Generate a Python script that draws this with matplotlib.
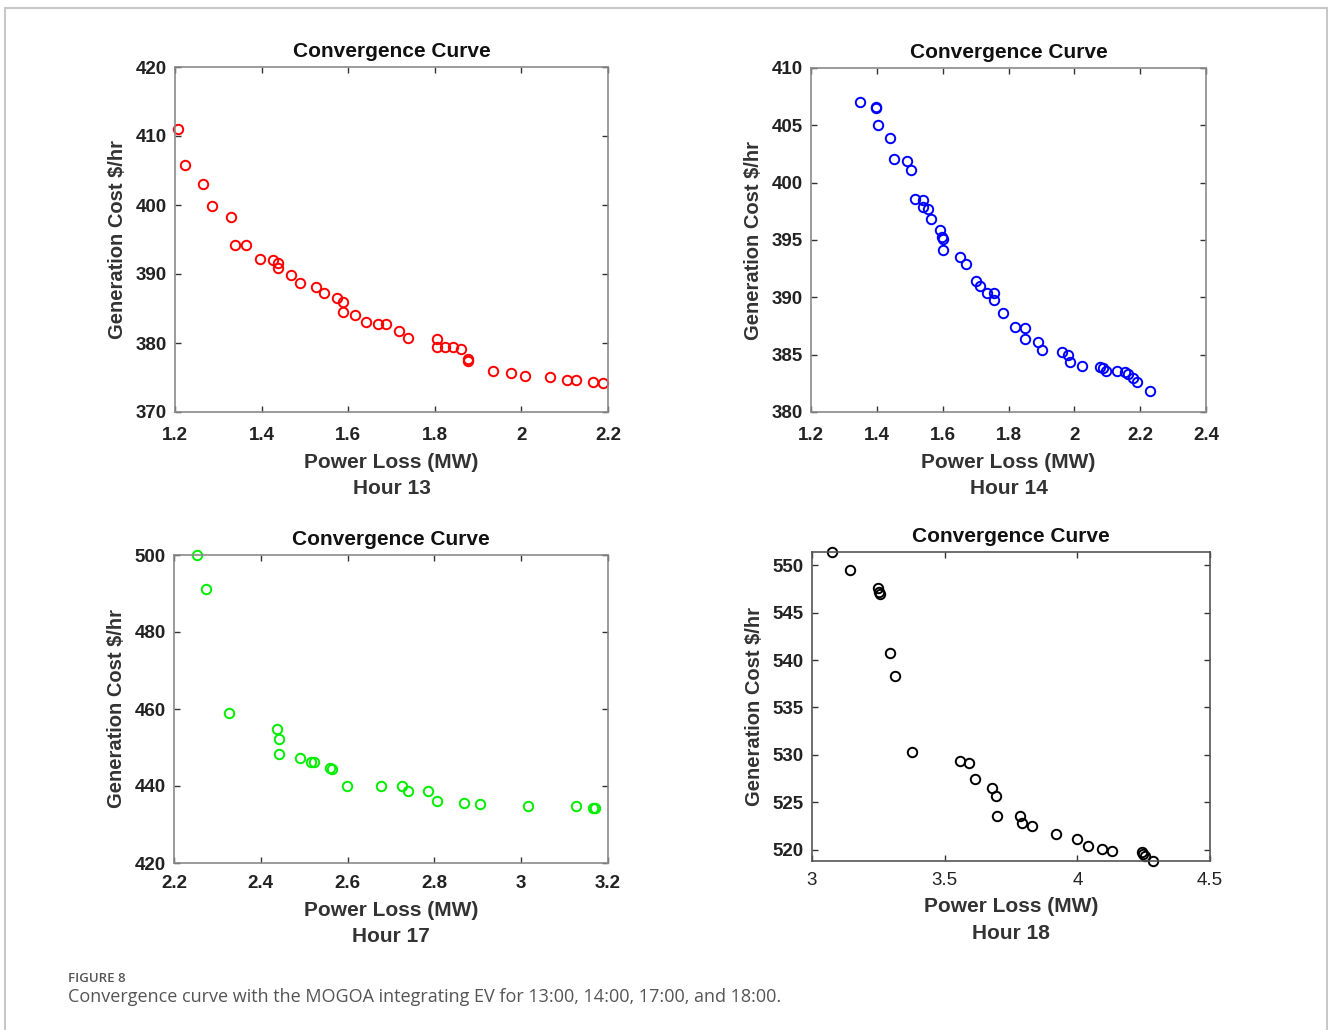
import matplotlib.pyplot as plt
from matplotlib.lines import Line2D

plt.rcParams['font.family'] = ['Liberation Sans', 'DejaVu Sans']

# Hour 13 (red)
loss_h13 = [1.208, 1.222, 1.264, 1.286, 1.330, 1.339, 1.364, 1.397, 1.427, 1.437,
            1.439, 1.468, 1.488, 1.525, 1.545, 1.575, 1.588, 1.587, 1.616, 1.642,
            1.668, 1.687, 1.717, 1.738, 1.805, 1.806, 1.823, 1.841, 1.861, 1.876,
            1.877, 1.934, 1.977, 2.008, 2.067, 2.105, 2.127, 2.165, 2.189]
cost_h13 = [411.0, 405.8, 403.1, 399.8, 398.3, 394.2, 394.2, 392.2, 392.1, 391.6,
            390.9, 389.8, 388.7, 388.1, 387.3, 386.5, 386.0, 384.5, 384.0, 383.0,
            382.7, 382.7, 381.7, 380.7, 380.6, 379.4, 379.4, 379.4, 379.1, 377.7,
            377.4, 376.0, 375.7, 375.2, 375.1, 374.6, 374.6, 374.3, 374.2]

# Hour 14 (blue)
loss_h14 = [1.350, 1.396, 1.398, 1.405, 1.439, 1.453, 1.492, 1.505, 1.515, 1.539,
            1.540, 1.555, 1.566, 1.591, 1.597, 1.601, 1.601, 1.654, 1.670, 1.700,
            1.713, 1.734, 1.757, 1.757, 1.782, 1.821, 1.849, 1.851, 1.891, 1.903,
            1.963, 1.982, 1.987, 2.024, 2.078, 2.088, 2.096, 2.131, 2.153, 2.163,
            2.178, 2.190, 2.231]
cost_h14 = [407.0, 406.6, 406.5, 405.0, 403.9, 402.1, 401.9, 401.1, 398.6, 398.5,
            397.9, 397.7, 396.8, 395.9, 395.3, 395.1, 394.1, 393.5, 392.9, 391.4,
            391.0, 390.4, 390.4, 389.8, 388.6, 387.4, 387.3, 386.4, 386.1, 385.4,
            385.2, 385.0, 384.4, 384.0, 383.9, 383.8, 383.6, 383.6, 383.5, 383.3,
            383.0, 382.6, 381.8]

# Hour 17 (green)
loss_h17 = [2.254, 2.274, 2.326, 2.438, 2.442, 2.443, 2.491, 2.515, 2.522, 2.559,
            2.565, 2.598, 2.678, 2.726, 2.740, 2.786, 2.806, 2.868, 2.905, 3.015,
            3.127, 3.166, 3.171]
cost_h17 = [500.0, 491.2, 459.0, 454.7, 452.1, 448.3, 447.3, 446.3, 446.2, 444.6,
            444.4, 440.1, 440.1, 440.0, 438.8, 438.7, 436.2, 435.6, 435.2, 434.9,
            434.7, 434.3, 434.2]

# Hour 18 (black)
loss_h18 = [3.075, 3.143, 3.250, 3.253, 3.257, 3.294, 3.312, 3.378, 3.559, 3.592,
            3.616, 3.677, 3.692, 3.698, 3.785, 3.791, 3.830, 3.920, 3.998, 4.040,
            4.094, 4.131, 4.244, 4.249, 4.254, 4.285]
cost_h18 = [551.4, 549.5, 547.6, 547.2, 547.0, 540.7, 538.3, 530.3, 529.3, 529.1,
            527.4, 526.5, 525.7, 523.6, 523.5, 522.8, 522.5, 521.6, 521.1, 520.35,
            520.1, 519.9, 519.8, 519.5, 519.3, 518.8]

W, H = 1328, 1030
fig = plt.figure(figsize=(W / 100, H / 100), dpi=100)


def px_axes(left, top, right, bottom):
    return fig.add_axes([left / W, 1 - bottom / H, (right - left) / W, (bottom - top) / H])


panels = [
    dict(box=(175, 67, 608, 412), x=loss_h13, y=cost_h13, color='#ff0000',
         xlim=(1.2, 2.2), ylim=(370, 420), xticks=[1.2, 1.4, 1.6, 1.8, 2.0, 2.2],
         xtl=['1.2', '1.4', '1.6', '1.8', '2', '2.2'], yticks=[370, 380, 390, 400, 410, 420],
         hour='Hour 13', spine='#8a8a8a', xbold=True, xpad=11),
    dict(box=(811, 68, 1206, 412), x=loss_h14, y=cost_h14, color='#0000ff',
         xlim=(1.2, 2.4), ylim=(380, 410), xticks=[1.2, 1.4, 1.6, 1.8, 2.0, 2.2, 2.4],
         xtl=['1.2', '1.4', '1.6', '1.8', '2', '2.2', '2.4'],
         yticks=[380, 385, 390, 395, 400, 405, 410],
         hour='Hour 14', spine='#8a8a8a', xbold=True, xpad=11),
    dict(box=(174, 555, 608, 863), x=loss_h17, y=cost_h17, color='#00ee00',
         xlim=(2.2, 3.2), ylim=(420, 500), xticks=[2.2, 2.4, 2.6, 2.8, 3.0, 3.2],
         xtl=['2.2', '2.4', '2.6', '2.8', '3', '3.2'], yticks=[420, 440, 460, 480, 500],
         hour='Hour 17', spine='#8a8a8a', xbold=True, xpad=9),
    dict(box=(812, 552, 1210, 861), x=loss_h18, y=cost_h18, color='#000000',
         xlim=(3.0, 4.5), ylim=(518.8, 551.4), xticks=[3.0, 3.5, 4.0, 4.5],
         xtl=['3', '3.5', '4', '4.5'], yticks=[520, 525, 530, 535, 540, 545, 550],
         hour='Hour 18', spine='#555555', xbold=False, xpad=8),
]

for p in panels:
    ax = px_axes(*p['box'])
    ax.plot(p['x'], p['y'], 'o', mfc='none', mec=p['color'], ms=6.8, mew=1.4,
            linestyle='none', clip_on=False)
    ax.set_xlim(*p['xlim'])
    ax.set_ylim(*p['ylim'])
    ax.set_xticks(p['xticks'])
    ax.set_xticklabels(p['xtl'], fontsize=13.5,
                       fontweight='bold' if p['xbold'] else 'normal', color='#222222')
    ax.set_yticks(p['yticks'])
    ax.set_yticklabels([str(v) for v in p['yticks']], fontsize=13.5,
                       fontweight='bold', color='#222222')
    ax.tick_params(direction='in', length=4, width=1, color='#333333',
                   top=True, right=True)
    ax.tick_params(axis='x', pad=p['xpad'])
    ax.tick_params(axis='y', pad=6)
    for s in ax.spines.values():
        s.set_color(p['spine'])
        s.set_linewidth(1.2)
    ax.set_title('Convergence Curve', fontsize=15, fontweight='bold', pad=7,
                 color='#111111')
    ax.set_xlabel('Power Loss (MW)\n' + p['hour'], fontsize=15, fontweight='bold',
                  color='#333333', linespacing=1.5, labelpad=6)
    ax.set_ylabel(r'Generation Cost \$/hr', fontsize=14.5, fontweight='bold',
                  color='#333333', labelpad=6)

# outer frame (open at bottom)
frame = [
    Line2D([4.5 / W, 4.5 / W], [0, 1 - 7.5 / H]),
    Line2D([4.5 / W, 1327 / W], [1 - 7.5 / H, 1 - 7.5 / H]),
    Line2D([1327 / W, 1327 / W], [0, 1 - 7.5 / H]),
]
for ln in frame:
    ln.set_color('#c8c8c8')
    ln.set_linewidth(1.5)
    ln.set_transform(fig.transFigure)
    fig.add_artist(ln)

fig.text(68 / W, 1 - 978 / H, 'FIGURE 8', fontsize=9.5, color='#555555',
         fontweight='semibold', va='center', ha='left',
         family=['Open Sans', 'DejaVu Sans'])
fig.text(68 / W, 1 - 997 / H,
         'Convergence curve with the MOGOA integrating EV for 13:00, 14:00, 17:00, and 18:00.',
         fontsize=13, color='#555555', va='center', ha='left',
         family=['Open Sans', 'DejaVu Sans'])

fig.savefig('out.png', dpi=100)
